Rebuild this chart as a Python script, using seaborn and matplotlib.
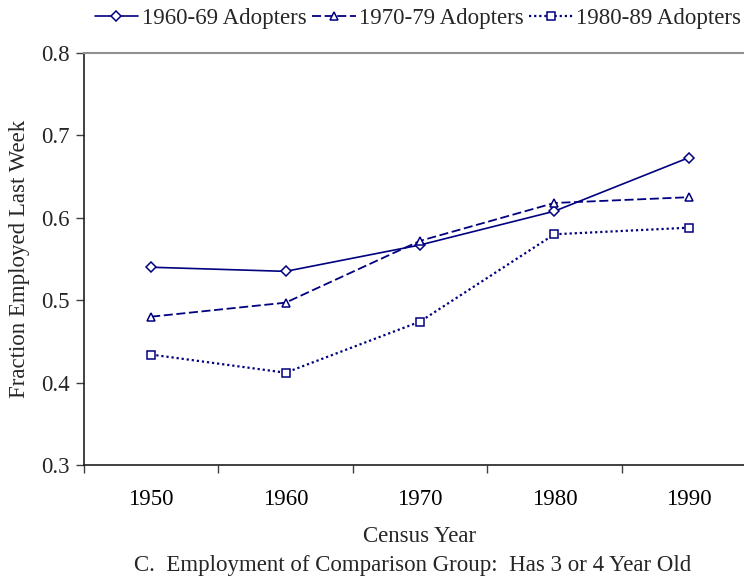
import numpy as np
import pandas as pd
import matplotlib
matplotlib.use('Agg')
import matplotlib.pyplot as plt
import seaborn as sns

sns.set_style('white')
plt.rcParams['font.family'] = ['Liberation Serif', 'DejaVu Serif']

years = [1950, 1960, 1970, 1980, 1990]
adopt_60s = [0.540, 0.535, 0.567, 0.608, 0.673]
adopt_70s = [0.480, 0.497, 0.572, 0.618, 0.625]
adopt_80s = [0.434, 0.412, 0.474, 0.580, 0.588]
labels = ['1960-69 Adopters', '1970-79 Adopters', '1980-89 Adopters']

navy = '#000080'
fig = plt.figure(figsize=(7.44, 5.79), dpi=100)
ax = fig.add_axes([84/744, 1 - 465/579, 672/744, 412/579])

styles = [('D', '-', 1.2), ('^', (0, (5, 2)), 1.3), ('s', (0, (1, 1.3)), 1.6)]
for vals, lab, (mk, ls, lw) in zip([adopt_60s, adopt_70s, adopt_80s], labels, styles):
    df = pd.DataFrame({'year': years, 'value': vals})
    sns.lineplot(data=df, x='year', y='value', ax=ax, color=navy, lw=lw,
                 linestyle=ls, marker=mk, markersize=5.5, markerfacecolor='white',
                 markeredgecolor=navy, markeredgewidth=1.1, label=lab)

ax.set_xlim(1945, 1995)
ax.set_ylim(0.3, 0.8)
ax.set_yticks(np.arange(0.3, 0.81, 0.1))
ax.set_yticklabels([f'{v:.1f}' for v in np.arange(0.3, 0.81, 0.1)])
ax.set_xticks(years)
ax.set_xticks([1945, 1955, 1965, 1975, 1985, 1995], minor=True)
ax.tick_params(axis='x', which='major', length=0, pad=17, labelsize=16.5, colors='black')
ax.tick_params(axis='x', which='minor', length=6, width=1, direction='out', color='#404040')
ax.tick_params(axis='y', length=6, width=1, direction='out', labelsize=16.5, pad=4, color='#404040')
ax.tick_params(left=True, bottom=True, which='both')

for s in ['left', 'bottom']:
    ax.spines[s].set_color('#202020')
    ax.spines[s].set_linewidth(1.2)
ax.spines['top'].set_color('#909090')
ax.spines['top'].set_linewidth(1.5)
ax.spines['right'].set_visible(False)

ax.set_xlabel('Census Year', fontsize=16.5, labelpad=12)
ax.set_ylabel('Fraction Employed Last Week', fontsize=16.5, labelpad=8)

handles, labs = ax.get_legend_handles_labels()
ax.get_legend().remove()
fig.legend(handles, labs, loc='center', bbox_to_anchor=(418/744, 1 - 18/579), ncol=3,
           frameon=False, fontsize=16.5, handlelength=1.9, handletextpad=0.15,
           columnspacing=0.25, borderpad=0)

fig.text(413/744, 1 - 565/579, 'C.  Employment of Comparison Group:  Has 3 or 4 Year Old',
         ha='center', va='center', fontsize=16.5)

fig.savefig('out.png', dpi=100)
